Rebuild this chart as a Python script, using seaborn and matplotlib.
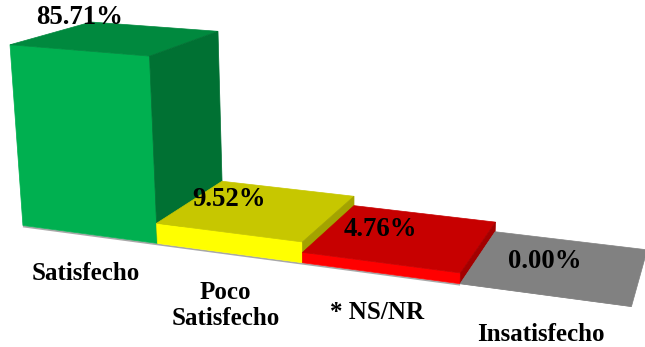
import numpy as np
import pandas as pd
import matplotlib
matplotlib.use("Agg")
import matplotlib.pyplot as plt
import matplotlib.transforms as mtransforms
import matplotlib.colors as mcolors
import seaborn as sns

# Survey results
categories = ["Satisfecho", "Poco\nSatisfecho", "* NS/NR", "Insatisfecho"]
values = [85.71, 9.52, 4.76, 0.00]
front_colors = ["#00B050", "#FFFF00", "#FF0000", "#A5A5A5"]

# Shading of the box faces relative to the front face
TOP_SHADE = 0.78
SIDE_SHADE = 0.64

# Perspective camera: world (column index, percent, depth 0..1) -> figure pixels
CAMERA = np.array([
    [128.562, -0.155451, 88.5591, 22.9303],
    [8.83399, -2.12845, -19.2887, 225.455],
    [-0.0373228, -0.000450579, 0.116039, 1.0],
])


def project(X, Y, Z):
    pts = np.column_stack([np.atleast_1d(X), np.atleast_1d(Y),
                           np.atleast_1d(Z), np.ones(np.size(X))]).astype(float)
    h = pts @ CAMERA.T
    return h[:, 0] / h[:, 2], h[:, 1] / h[:, 2]


class FrontPlane(mtransforms.Transform):
    """Maps bar-chart data coordinates onto the front plane of the 3-D scene."""
    input_dims = 2
    output_dims = 2

    def transform_non_affine(self, values):
        v = np.asarray(values, float).reshape(-1, 2)
        u, w = project(v[:, 0] + 0.5, v[:, 1], np.zeros(len(v)))
        return np.column_stack([u, w])


sns.set_theme(style="white")
plt.rcParams["font.family"] = ["Liberation Serif", "DejaVu Serif"]

df = pd.DataFrame({"categoria": categories, "porcentaje": values})

fig = plt.figure(figsize=(6.45, 3.47), dpi=100)
ax = fig.add_axes([0, 0, 1, 1])

sns.barplot(data=df, x="categoria", y="porcentaje", hue="categoria",
            palette=front_colors, width=1, saturation=1, legend=False,
            errorbar=None, ax=ax)

bars = list(ax.patches)
front = FrontPlane()

# Faint floor edge along the front of the columns
fx, fy = project([0, 3], [0, 0], [0, 0])
ax.plot(fx, fy + 1, color="#A8A8A8", lw=1.3, zorder=-1, solid_capstyle="butt")

for i, bar in enumerate(bars):
    x0 = bar.get_x() + 0.5
    x1 = x0 + bar.get_width()
    h = bar.get_height()
    base = np.array(mcolors.to_rgb(bar.get_facecolor()))

    # front face: the seaborn bar itself, seen through the camera
    bar.set_transform(front + ax.transData)
    bar.set_edgecolor(base)
    bar.set_linewidth(0.5)
    bar.set_zorder(3 * i)

    # top face
    u, w = project([x0, x1, x1, x0], [h, h, h, h], [0, 0, 1, 1])
    ax.fill(u, w, color=base * TOP_SHADE, lw=0.5, zorder=3 * i + 1)

    # right side face
    if h > 0:
        u, w = project([x1, x1, x1, x1], [0, 0, h, h], [0, 1, 1, 0])
        ax.fill(u, w, color=base * SIDE_SHADE, lw=0.5, zorder=3 * i + 2)

    # value label above the column
    cu, cw = project([x0 + 0.5 * (x1 - x0)], [h], [0])
    ax.annotate(f"{values[i]:.2f}%", xy=(cu[0], cw[0]), xytext=(1, 33),
                textcoords="offset pixels", ha="center", va="center",
                fontsize=19.3, fontweight="bold", color="black", zorder=30)

    # category label under the column
    bu, bw = project([x0 + 0.5 * (x1 - x0)], [0], [0])
    ax.annotate(categories[i], xy=(bu[0], bw[0]), xytext=(-3, -28),
                textcoords="offset pixels", ha="center", va="top",
                fontsize=18, fontweight="bold", color="black",
                linespacing=1.2, zorder=30)

ax.set_xlim(0, 645)
ax.set_ylim(347, 0)
ax.set_axis_off()

fig.savefig("out.png", dpi=100)
